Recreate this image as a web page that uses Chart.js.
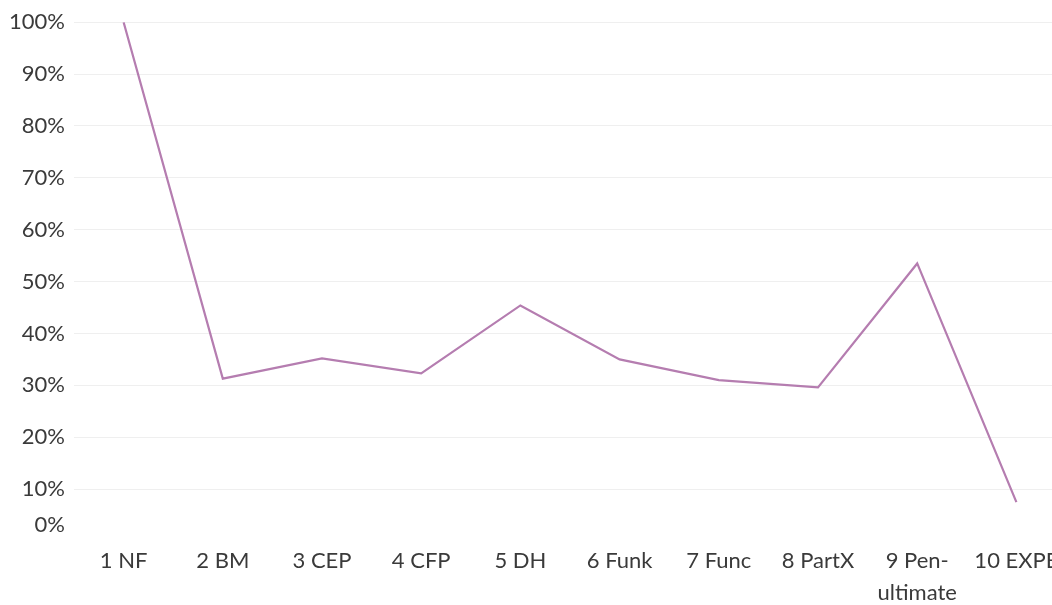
<!DOCTYPE html>
<html lang="en">
<head>
    <meta charset="UTF-8">
    <title>Line chart</title>
    <script src="https://cdn.jsdelivr.net/npm/chart.js"></script>
    <style>
        html, body {
            margin: 0;
            padding: 0;
            background: #ffffff;
            overflow: hidden;
        }
        .chart-box {
            position: relative;
            width: 1066px;
            height: 605px;
        }
    </style>
</head>
<body>
    <div class="chart-box">
        <canvas id="lineChart"></canvas>
    </div>

    <script>
        // data
        const categories = ['1 NF', '2 BM', '3 CEP', '4 CFP', '5 DH', '6 Funk', '7 Func', '8 PartX', ['9 Pen-', 'ultimate'], '10 EXPE'];
        const shares = [100, 31.3, 35.2, 32.3, 45.4, 35.0, 31.0, 29.6, 53.5, 7.5];
        const yTicks = [0, 10, 20, 30, 40, 50, 60, 70, 80, 90, 100];

        // the 0% label sits a little above its gridline in the original
        const zeroLabel = {
            id: 'zeroLabel',
            afterDraw(chart) {
                const y = chart.scales.y;
                const c = chart.ctx;
                c.save();
                c.font = '22px Lato';
                c.fillStyle = '#3a3a3a';
                c.textAlign = 'right';
                c.textBaseline = 'middle';
                c.fillText('0%', y.right - 9, y.getPixelForValue(0) - 16);
                c.restore();
            }
        };

        const ctx = document.getElementById('lineChart').getContext('2d');
        new Chart(ctx, {
            type: 'line',
            data: {
                labels: categories,
                datasets: [{
                    data: shares,
                    borderColor: '#b57db0',
                    borderWidth: 2.2,
                    pointRadius: 0,
                    tension: 0,
                    fill: false
                }]
            },
            options: {
                responsive: true,
                maintainAspectRatio: false,
                animation: false,
                layout: { padding: { top: 8, left: 4, right: 0, bottom: 0 } },
                plugins: {
                    legend: { display: false },
                    tooltip: { enabled: false }
                },
                scales: {
                    x: {
                        offset: true,
                        afterFit(scale) {
                            scale.height = 64;
                        },
                        grid: { display: false, drawTicks: false },
                        border: { display: false },
                        ticks: {
                            color: '#3a3a3a',
                            font: { family: 'Lato', size: 22, lineHeight: 1.45 },
                            maxRotation: 0,
                            autoSkip: false,
                            padding: 4
                        }
                    },
                    y: {
                        min: 0,
                        max: 100,
                        afterBuildTicks(scale) {
                            scale.ticks = yTicks.map(v => ({ value: v }));
                        },
                        afterFit(scale) {
                            scale.width = 70;
                        },
                        grid: {
                            color: c => c.tick && c.tick.value === 0 ? 'rgba(0,0,0,0)' : '#efefef',
                            drawTicks: false
                        },
                        border: { display: false },
                        ticks: {
                            color: '#3a3a3a',
                            font: { family: 'Lato', size: 22 },
                            padding: 9,
                            callback: v => v === 0 ? '' : v + '%'
                        }
                    }
                }
            },
            plugins: [zeroLabel]
        });
    </script>
</body>
</html>
